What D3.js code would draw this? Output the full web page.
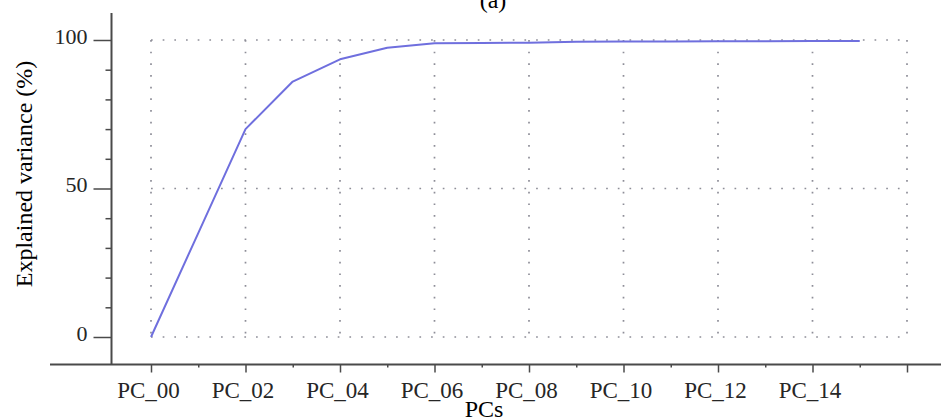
<!DOCTYPE html>
<html>
<head>
<meta charset="utf-8">
<script src="https://cdn.jsdelivr.net/npm/d3@7"></script>
<style>
  html, body { margin: 0; padding: 0; background: #fff; }
  svg { display: block; }
  text { font-family: "Liberation Serif", "Times New Roman", serif; }
</style>
</head>
<body>
<svg id="chart" width="941" height="418"></svg>
<script>
// ---- data ----
const categories = ["PC_00","PC_01","PC_02","PC_03","PC_04","PC_05","PC_06","PC_07",
                    "PC_08","PC_09","PC_10","PC_11","PC_12","PC_13","PC_14","PC_15"];
const explainedVariance = [0, 35, 70, 86, 93.5, 97.4, 98.9, 99.0,
                           99.1, 99.4, 99.5, 99.5, 99.6, 99.6, 99.7, 99.7];
const xTickLabels = ["PC_00","PC_02","PC_04","PC_06","PC_08","PC_10","PC_12","PC_14",""];
const yTickValues = [0, 50, 100];
const titleText = "(a)";
const xTitle = "PCs";
const yTitle = "Explained variance (%)";

// ---- layout ----
const svg = d3.select("#chart");
const x = d3.scaleLinear().domain([0, 16]).range([151, 907]);
const y = d3.scaleLinear().domain([0, 100]).range([337, 40]);
const axisY = 364.5;   // pixel row of x axis
const axisX = 111.5;   // pixel column of y axis
const xMin = x.invert(50), xMax = x.invert(941);
const yTop = y.invert(13);

const axisColor = "#4a4a4a";
const gridColor = "#8e8e98";
const lineColor = "#6f6fde";
const textColor = "#262626";

// ---- grid ----
const majorX = d3.range(0, 17, 2);
const grid = svg.append("g");
grid.selectAll("line.h").data(yTickValues).join("line")
  .attr("x1", x(0)).attr("x2", x(16))
  .attr("y1", d => y(d)).attr("y2", d => y(d))
  .attr("stroke", gridColor).attr("stroke-width", 1.7)
  .attr("stroke-dasharray", "1.7,9.97");
grid.selectAll("line.v").data(majorX).join("line")
  .attr("x1", d => x(d)).attr("x2", d => x(d))
  .attr("y1", y(100)).attr("y2", y(0))
  .attr("stroke", gridColor).attr("stroke-width", 1.7)
  .attr("stroke-dasharray", "1.7,9.97");

// ---- x axis ----
const xAxisMajor = d3.axisBottom(x).tickValues(majorX)
  .tickSize(8).tickPadding(9)
  .tickFormat((d, i) => xTickLabels[i]);
const gxMaj = svg.append("g").attr("transform", `translate(0,${axisY})`).call(xAxisMajor);
const xAxisMinor = d3.axisBottom(x).tickValues(d3.range(1, 16, 2)).tickSize(3).tickFormat("");
const gxMin = svg.append("g").attr("transform", `translate(0,${axisY})`).call(xAxisMinor);
[gxMaj, gxMin].forEach(g => {
  g.select(".domain").remove();
  g.selectAll(".tick line").attr("stroke", axisColor).attr("stroke-width", 1.5);
});
gxMaj.selectAll(".tick text")
  .attr("fill", textColor).attr("font-size", 23)
  .attr("font-family", "'Liberation Serif', serif")
  .attr("dx", -3);
svg.append("line")
  .attr("x1", x(xMin)).attr("x2", x(xMax))
  .attr("y1", axisY).attr("y2", axisY)
  .attr("stroke", axisColor).attr("stroke-width", 2);

// ---- y axis ----
const yAxisMajor = d3.axisLeft(y).tickValues(yTickValues).tickSize(18).tickPadding(6);
const gyMaj = svg.append("g").attr("transform", `translate(${axisX},0)`).call(yAxisMajor);
const yAxisMinor = d3.axisLeft(y).tickValues(d3.range(10, 100, 10).filter(v => v !== 50))
  .tickSize(6).tickFormat("");
const gyMin = svg.append("g").attr("transform", `translate(${axisX},0)`).call(yAxisMinor);
[gyMaj, gyMin].forEach(g => {
  g.select(".domain").remove();
  g.selectAll(".tick line").attr("stroke", axisColor).attr("stroke-width", 1.5);
});
gyMaj.selectAll(".tick text")
  .attr("fill", textColor).attr("font-size", 22)
  .attr("font-family", "'Liberation Serif', serif")
  .attr("dy", "0.15em");
svg.append("line")
  .attr("x1", axisX).attr("x2", axisX)
  .attr("y1", y(yTop)).attr("y2", axisY)
  .attr("stroke", axisColor).attr("stroke-width", 2);

// ---- data line ----
const line = d3.line().x((d, i) => x(i)).y(d => y(d));
svg.append("path")
  .datum(explainedVariance)
  .attr("d", line)
  .attr("fill", "none")
  .attr("stroke", lineColor)
  .attr("stroke-width", 2)
  .attr("stroke-linejoin", "round");

// ---- titles ----
svg.append("text")
  .attr("x", 493).attr("y", 8)
  .attr("text-anchor", "middle")
  .attr("font-size", 24).attr("fill", "#000")
  .text(titleText);
svg.append("text")
  .attr("x", 484).attr("y", 417)
  .attr("text-anchor", "middle")
  .attr("font-size", 24).attr("fill", "#000")
  .text(xTitle);
svg.append("text")
  .attr("transform", "translate(32,174) rotate(-90)")
  .attr("text-anchor", "middle")
  .attr("font-size", 24).attr("fill", "#000")
  .text(yTitle);
</script>
</body>
</html>
